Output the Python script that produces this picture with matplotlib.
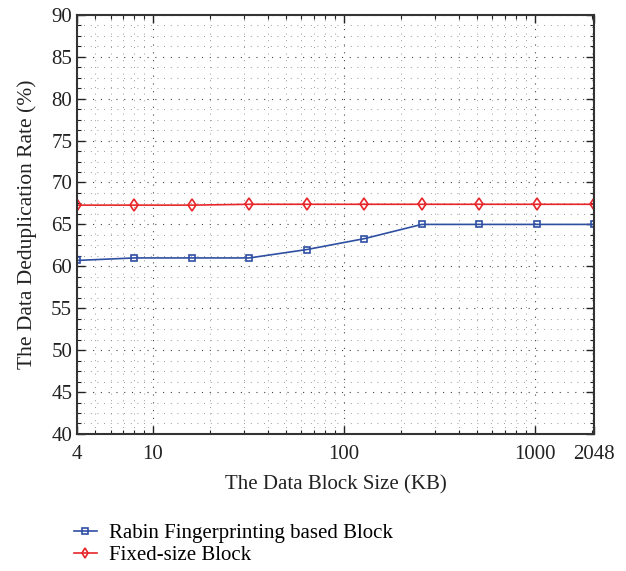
import matplotlib
matplotlib.use('Agg')
import matplotlib.pyplot as plt
from matplotlib.ticker import FixedLocator, NullFormatter, MultipleLocator, LogLocator

# tailles de bloc (KB) et taux de déduplication (%)
block_sizes = [4, 8, 16, 32, 64, 128, 256, 512, 1024, 2048]
rabin_rate = [60.7, 61.0, 61.0, 61.0, 62.0, 63.3, 65.0, 65.0, 65.0, 65.0]
fixed_rate = [67.3, 67.3, 67.3, 67.4, 67.4, 67.4, 67.4, 67.4, 67.4, 67.4]
x_ticks = [4, 10, 100, 1000, 2048]
x_tick_labels = ['4', '10', '100', '1000', '2048']

plt.rcParams['font.family'] = ['Liberation Serif', 'DejaVu Serif']

fig = plt.figure(figsize=(6.26, 5.71), dpi=100)
ax = fig.add_axes([0.123, 0.240, 0.826, 0.734])

ax.plot(block_sizes, rabin_rate, color='#2f4fa3', lw=1.2, marker='s', ms=5,
        mfc='none', mew=1.2, label='Rabin Fingerprinting based Block')
ax.plot(block_sizes, fixed_rate, color='#e8262a', lw=1.2, marker='d', ms=6,
        mfc='none', mew=1.2, label='Fixed-size Block')

ax.set_xscale('log')
ax.set_xlim(4, 2048)
ax.set_ylim(40, 90)
ax.xaxis.set_major_locator(FixedLocator(x_ticks))
ax.set_xticklabels(x_tick_labels)
ax.xaxis.set_minor_locator(LogLocator(base=10, subs=range(2, 10)))
ax.xaxis.set_minor_formatter(NullFormatter())
ax.yaxis.set_major_locator(MultipleLocator(5))
ax.yaxis.set_minor_locator(MultipleLocator(1.25))

ax.grid(True, which='major', ls=(0, (1, 6)), color='#444444', lw=0.8)
ax.grid(True, which='minor', ls=(0, (1, 7)), color='#777777', lw=0.6)

ax.tick_params(which='both', direction='in', top=True, right=True,
               labelsize=15, colors='#222222')
ax.tick_params(which='major', length=6, width=1)
ax.tick_params(which='minor', length=3, width=0.8)
ax.tick_params(axis='x', pad=8)
for s in ax.spines.values():
    s.set_linewidth(1.5)
    s.set_color('#333333')

ax.set_xlabel('The Data Block Size (KB)', fontsize=15, color='#222222', labelpad=8)
ax.set_ylabel('The Data Deduplication Rate (%)', fontsize=15.5, color='#222222',
              labelpad=10)

fig.legend(loc='upper left', bbox_to_anchor=(0.118, 0.083), frameon=False,
           fontsize=15, handlelength=1.1, handletextpad=0.6, labelspacing=0.1,
           markerscale=0.8, borderaxespad=0, borderpad=0)

fig.savefig('out.png', dpi=100)
